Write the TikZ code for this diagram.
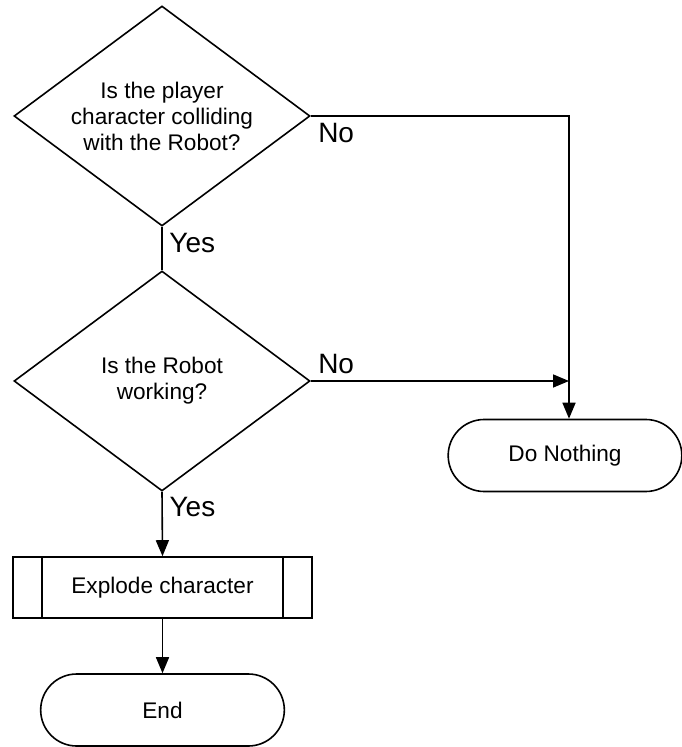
\documentclass[tikz,border=0pt]{standalone}
\usepackage{fontspec}
\setmainfont{Liberation Sans}
\usetikzlibrary{shapes.geometric,shapes.misc,arrows.meta}

\begin{document}
\begin{tikzpicture}[x=0.5pt,y=-0.5pt,line width=0.8pt,
	decision/.style={draw,diamond,aspect=1.345,minimum width=148pt,minimum height=110pt,inner sep=0pt,align=center,font=\fontsize{11.3}{13}\selectfont},
	process/.style={draw,rectangle,minimum width=149.5pt,minimum height=30.5pt,font=\fontsize{11.3}{13}\selectfont},
	terminal/.style={draw,rounded rectangle,minimum height=36pt,font=\fontsize{11.3}{13}\selectfont},
	lbl/.style={font=\fontsize{14}{16}\selectfont},
	arr/.style={-{Triangle[length=8pt,width=6.5pt]}}]
			\useasboundingbox (0,0) rectangle (681,747);
			\node[decision] (collide) at (162,116) {Is the player\\character colliding\\with the Robot?};
			\node[decision] (working) at (162,381) {Is the Robot\\working?};
			\node[process] (explode) at (162.5,587.5) {Explode character};
			\node[terminal,minimum width=128.5pt] (end) at (162.5,710) {End};
			\node[terminal,minimum width=123.5pt] (nothing) at (565,455.5) {Do Nothing};
			\coordinate (corner) at (569,116);
			\draw ([xshift=15pt]explode.north west)--([xshift=15pt]explode.south west);
			\draw ([xshift=-15pt]explode.north east)--([xshift=-15pt]explode.south east);
			\draw[arr] (collide.east)--node[pos=0,below right,lbl]{No} (corner)--(corner |- nothing.north);
			\draw[arr] (working.east)--node[pos=0,above right,lbl]{No} (corner |- working.east);
			\draw (collide.south)--node[pos=0.38,right,lbl]{Yes} (working.north);
			\draw[arr] (working.south)--node[pos=0.24,right,lbl]{Yes} (explode.north);
			\draw[arr] (explode.south)--(end.north);
		\end{tikzpicture}
\end{document}
